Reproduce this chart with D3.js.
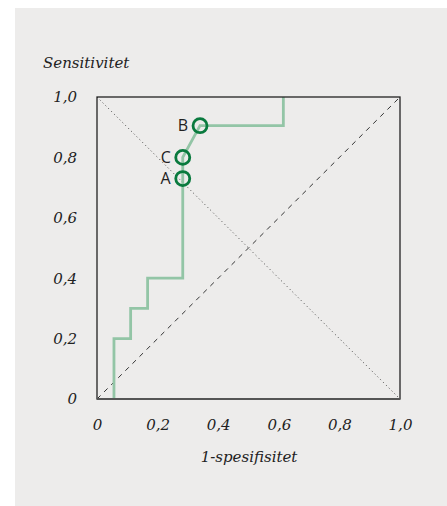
<!DOCTYPE html>
<html>
<head>
<meta charset="utf-8">
<script src="https://cdn.jsdelivr.net/npm/d3@7"></script>
<style>
  body { margin: 0; background: #fff; }
  #roc { position: absolute; left: 0; top: 0; }
  .tick-label, .axis-title { font-family: "DejaVu Serif", serif; font-style: italic; fill: #222; }
  .point-label { font-family: "Open Sans", sans-serif; fill: #222; }
</style>
</head>
<body>
<div id="roc"></div>
<script>
// ROC curve (1-spesifisitet vs sensitivitet)
const fpr = [0.056, 0.056, 0.111, 0.111, 0.167, 0.167, 0.283, 0.283, 0.283, 0.34, 0.615, 0.615];
const tpr = [0, 0.2, 0.2, 0.3, 0.3, 0.4, 0.4, 0.73, 0.8, 0.905, 0.905, 1.0];

const pointLabels = ["A", "B", "C"];
const pointX = [0.283, 0.34, 0.283];
const pointY = [0.73, 0.905, 0.8];

const tickValues = [0, 0.2, 0.4, 0.6, 0.8, 1.0];
const tickLabels = ["0", "0,2", "0,4", "0,6", "0,8", "1,0"];

let margin = { "left": 97, "right": 47, "top": 97, "bottom": 107 };
let width = 303;
let height = 302;

let root = d3.select("#roc")
  .append("svg")
  .attr("width", 447)
  .attr("height", 506);

// grey panel
root.append("rect")
  .attr("x", 15).attr("y", 8)
  .attr("width", 432).attr("height", 498)
  .attr("fill", "#edeceb");

let svg = root.append("g")
  .attr("transform", `translate(${margin.left},${margin.top})`);

let x = d3.scaleLinear().domain([0, 1]).range([0, width]);
let y = d3.scaleLinear().domain([0, 1]).range([height, 0]);

// reference diagonals
svg.append("line")
  .attr("x1", x(0)).attr("y1", y(0))
  .attr("x2", x(1)).attr("y2", y(1))
  .attr("stroke", "#333").attr("stroke-width", 1)
  .attr("stroke-dasharray", "5,5");

svg.append("line")
  .attr("x1", x(0)).attr("y1", y(1))
  .attr("x2", x(1)).attr("y2", y(0))
  .attr("stroke", "#444").attr("stroke-width", 1)
  .attr("stroke-dasharray", "1,3");

// ROC line
svg.append("path")
  .datum(d3.range(fpr.length))
  .attr("fill", "none")
  .attr("stroke", "#93c5a6")
  .attr("stroke-width", 2.8)
  .attr("stroke-linejoin", "miter")
  .attr("d", d3.line()
    .x(i => x(fpr[i]))
    .y(i => y(tpr[i]))
  );

// frame
svg.append("rect")
  .attr("width", width).attr("height", height)
  .attr("fill", "none")
  .attr("stroke", "#222").attr("stroke-width", 1.3);
svg.append("line")
  .attr("x1", 0).attr("x2", width)
  .attr("y1", height).attr("y2", height)
  .attr("stroke", "#555").attr("stroke-width", 2);

// axes, labels only
let xAxis = svg.append("g")
  .attr("transform", `translate(0,${height})`)
  .call(d3.axisBottom(x).tickValues(tickValues).tickSize(0).tickPadding(20)
    .tickFormat((d, i) => tickLabels[i]));
let yAxis = svg.append("g")
  .call(d3.axisLeft(y).tickValues(tickValues).tickSize(0).tickPadding(20)
    .tickFormat((d, i) => tickLabels[i]));

[xAxis, yAxis].forEach(a => {
  a.select(".domain").remove();
  a.selectAll("text")
    .attr("class", "tick-label")
    .attr("font-size", 15)
    .style("font-family", null);
});

// points
svg.selectAll("circle.pt")
  .data(pointLabels)
  .join("circle")
  .attr("class", "pt")
  .attr("cx", (d, i) => x(pointX[i]))
  .attr("cy", (d, i) => y(pointY[i]))
  .attr("r", 7)
  .attr("fill", "none")
  .attr("stroke", "#0a7a3e")
  .attr("stroke-width", 2.8);

svg.selectAll("text.point-label")
  .data(pointLabels)
  .join("text")
  .attr("class", "point-label")
  .attr("x", (d, i) => x(pointX[i]) - 12)
  .attr("y", (d, i) => y(pointY[i]))
  .attr("dy", "0.36em")
  .attr("text-anchor", "end")
  .attr("font-size", 16)
  .text(d => d);

// titles
root.append("text")
  .attr("class", "axis-title")
  .attr("x", 43).attr("y", 68)
  .attr("font-size", 15)
  .text("Sensitivitet");

root.append("text")
  .attr("class", "axis-title")
  .attr("x", 249).attr("y", 462)
  .attr("text-anchor", "middle")
  .attr("font-size", 15)
  .text("1-spesifisitet");
</script>
</body>
</html>
